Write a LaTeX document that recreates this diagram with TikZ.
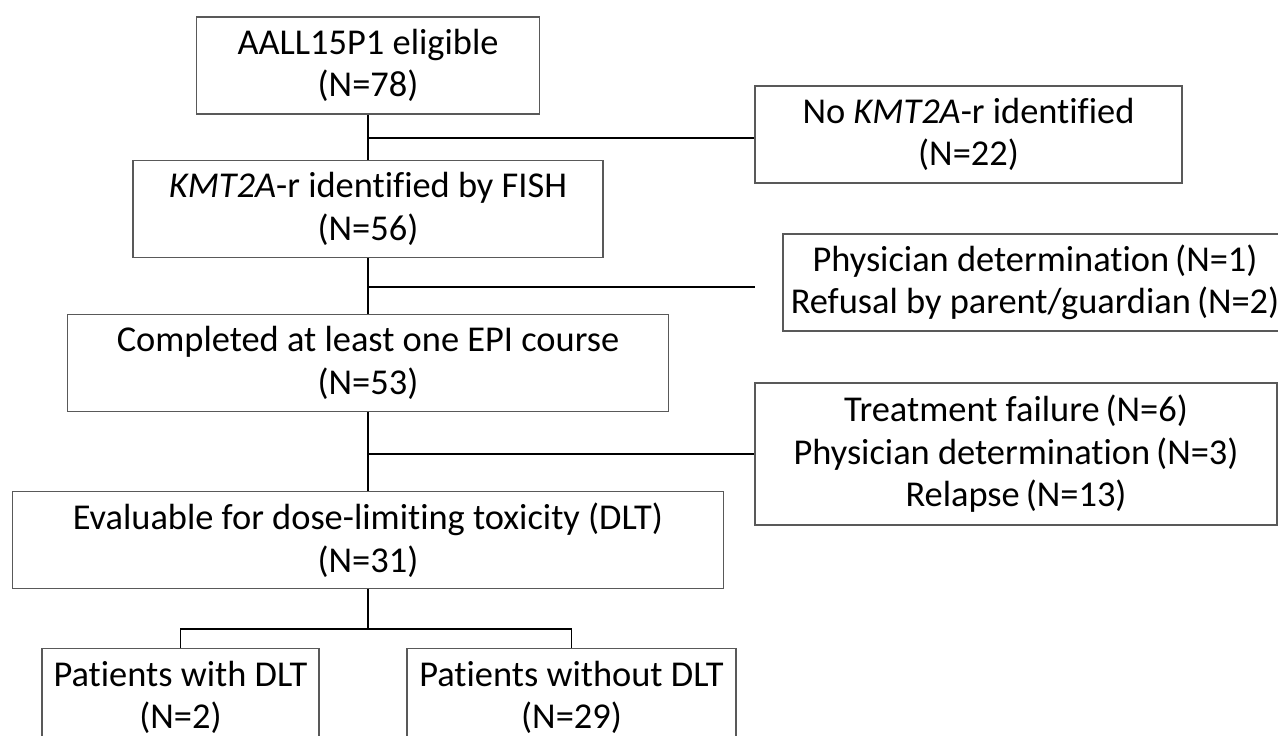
\documentclass[tikz,border=0pt]{standalone}
\usepackage{fontspec}
\setmainfont{Carlito}[Ligatures=NoCommon]
\usepackage{tikz}
\usetikzlibrary{positioning}
\tikzset{
  flowpicture/.style={x=0.5pt, y=-0.5pt, node distance=22.5pt},
  flowbox/.style={draw=black!65, line width=0.6pt, align=center, inner sep=0pt, minimum height=48.5pt, font=\fontsize{18.2pt}{21.3pt}\selectfont},
  flowtall/.style={flowbox, minimum height=71pt},
  flowline/.style={line width=0.9pt, black}
}

\begin{document}
\begin{tikzpicture}[flowpicture]
\useasboundingbox (0,0) rectangle (1278,735);
% main column
\node[flowbox, minimum width=171.5pt] (eligible) at (368,65.5) {AALL15P1 eligible\\(N=78)};
\node[flowbox, minimum width=235pt, below=22.5pt of eligible] (fish) {\textit{KMT2A}-r identified by FISH\\(N=56)};
\node[flowbox, minimum width=300.5pt, below=28pt of fish] (course) {Completed at least one EPI course\\(N=53)};
\node[flowbox, minimum width=355.5pt, below=39.5pt of course] (evaluable) {Evaluable for dose-limiting toxicity (DLT)\\(N=31)};
\node[flowbox, minimum width=138.5pt, below=29.5pt of evaluable, xshift=-93.75pt] (withdlt) {Patients with DLT\\(N=2)};
\node[flowbox, minimum width=164.5pt, below=29.5pt of evaluable, xshift=101.75pt] (withoutdlt) {Patients without DLT\\(N=29)};
% exclusions
\node[flowbox, minimum width=213.5pt] (nokmt) at (968.5,134.5) {No \textit{KMT2A}-r identified\\(N=22)};
\node[flowbox, minimum width=252pt] (notreat) at (1035,282.5) {Physician determination\,(N=1)\\Refusal by parent/guardian\,(N=2)};
\node[flowtall, minimum width=261pt] (offprot) at (1016,454) {Treatment failure\,(N=6)\\Physician determination\,(N=3)\\Relapse\,(N=13)};
\coordinate (split1) at (368,138);
\coordinate (split2) at (368,287);
\coordinate (end2) at (755,287);
\coordinate (fork) at (368,629);
\draw[flowline] (eligible) -- (fish);
\draw[flowline] (split1) -- (split1 -| nokmt.west);
\draw[flowline] (fish) -- (course);
\draw[flowline] (split2) -- (end2);
\draw[flowline] (course) -- (evaluable);
\draw[flowline] (course |- offprot.west) -- (offprot.west);
\draw[flowline] (evaluable) -- (fork);
\draw[flowline] (withdlt) |- (fork) -| (withoutdlt);
\end{tikzpicture}
\end{document}
